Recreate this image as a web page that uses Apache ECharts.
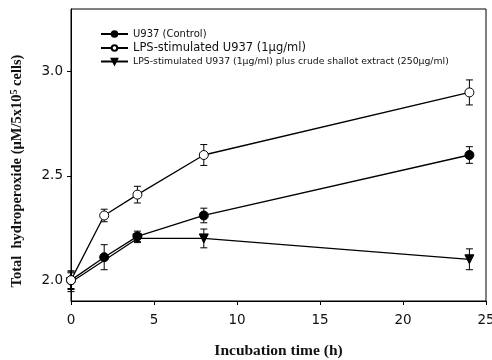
<!DOCTYPE html>
<html>
<head>
<meta charset="utf-8">
<style>
  html, body { margin: 0; padding: 0; background: #fff; }
  #chart { width: 492px; height: 360px; }
</style>
<script src="https://cdn.jsdelivr.net/npm/echarts@6/dist/echarts.min.js"></script>
</head>
<body>
<div id="chart"></div>
<script>
// Incubation times (h) and hydroperoxide levels with SD
const hours = [0, 2, 4, 8, 24];
const controlVals = [2.00, 2.11, 2.21, 2.31, 2.60];
const controlErr  = [0.045, 0.06, 0.025, 0.035, 0.04];
const lpsVals = [2.00, 2.31, 2.41, 2.60, 2.90];
const lpsErr  = [0.04, 0.03, 0.04, 0.05, 0.06];
const shallotHours = [0, 4, 8, 24];
const shallotVals = [1.99, 2.20, 2.20, 2.10];
const shallotErr  = [0.045, 0.02, 0.045, 0.05];
const yTicks = [2.0, 2.5, 3.0];

const names = [
  'U937 (Control)',
  'LPS-stimulated U937 (1\u03bcg/ml)',
  'LPS-stimulated U937 (1\u03bcg/ml) plus crude shallot extract (250\u03bcg/ml)'
];

function pairs(xs, ys) { return xs.map((x, i) => [x, ys[i]]); }
function errData(xs, ys, es) { return xs.map((x, i) => [x, ys[i] - es[i], ys[i] + es[i]]); }

function errorSeries(data) {
  return {
    type: 'custom',
    silent: true,
    z: 1,
    data: data,
    renderItem: function (params, api) {
      const lo = api.coord([api.value(0), api.value(1)]);
      const hi = api.coord([api.value(0), api.value(2)]);
      const cap = 3.5;
      const style = { stroke: '#000', lineWidth: 1, fill: null };
      return {
        type: 'group',
        children: [
          { type: 'line', shape: { x1: lo[0], y1: lo[1], x2: hi[0], y2: hi[1] }, style: style },
          { type: 'line', shape: { x1: lo[0] - cap, y1: lo[1], x2: lo[0] + cap, y2: lo[1] }, style: style },
          { type: 'line', shape: { x1: hi[0] - cap, y1: hi[1], x2: hi[0] + cap, y2: hi[1] }, style: style }
        ]
      };
    }
  };
}

const chart = echarts.init(document.getElementById('chart'), null, { renderer: 'canvas' });

const sansFont = 'DejaVu Sans';
const serifFont = 'Liberation Serif';

chart.setOption({
  animation: false,
  backgroundColor: '#fff',
  grid: {
    left: 71, right: 6, top: 9, bottom: 59,
    outerBoundsMode: 'none',
    containLabel: false,
    show: true, borderColor: '#000', borderWidth: 1, backgroundColor: 'transparent'
  },
  legend: {
    orient: 'vertical',
    left: 95,
    top: 24,
    itemWidth: 27,
    itemHeight: 7,
    itemGap: 3,
    textStyle: { fontFamily: sansFont, color: '#111' },
    data: [
      { name: names[0], textStyle: { fontSize: 10 } },
      { name: names[1], textStyle: { fontSize: 11.5 } },
      { name: names[2], textStyle: { fontSize: 9.3 } }
    ]
  },
  xAxis: {
    type: 'value',
    min: 0, max: 25, interval: 5,
    name: 'Incubation time (h)',
    nameLocation: 'middle',
    nameGap: 42,
    nameTextStyle: { fontFamily: serifFont, fontWeight: 'bold', fontSize: 15.5, color: '#111' },
    axisLine: { show: true, onZero: false, lineStyle: { color: '#000', width: 1 } },
    axisTick: { show: true, length: 4, lineStyle: { color: '#000' } },
    axisLabel: { fontFamily: sansFont, fontSize: 13.5, color: '#111', margin: 12 },
    splitLine: { show: false }
  },
  yAxis: {
    type: 'value',
    min: 1.9, max: 3.3,
    name: 'Total  hydroperoxide (\u03bcM/5x10{sup|5} cells)',
    nameLocation: 'middle',
    nameGap: 45,
    nameRotate: 90,
    nameTextStyle: {
      fontFamily: serifFont, fontWeight: 'bold', fontSize: 14.5, color: '#111',
      padding: [0, 32, 0, 0],
      rich: { sup: { fontFamily: serifFont, fontWeight: 'bold', fontSize: 10, verticalAlign: 'top', padding: [0, 0, 7, 0] } }
    },
    axisLine: { show: true, onZero: false, lineStyle: { color: '#000', width: 1 } },
    axisTick: { show: true, length: 4, customValues: yTicks, lineStyle: { color: '#000' } },
    axisLabel: {
      fontFamily: sansFont, fontSize: 13.5, color: '#111', margin: 8,
      customValues: yTicks,
      formatter: v => v.toFixed(1)
    },
    splitLine: { show: false }
  },
  series: [
    errorSeries(errData(hours, controlVals, controlErr)),
    errorSeries(errData(hours, lpsVals, lpsErr)),
    errorSeries(errData(shallotHours, shallotVals, shallotErr)),
    {
      name: names[0], type: 'line', z: 3,
      data: pairs(hours, controlVals),
      symbol: 'circle', symbolSize: 9,
      lineStyle: { color: '#000', width: 1.3 },
      itemStyle: { color: '#000', borderColor: '#000', borderWidth: 1 }
    },
    {
      name: names[1], type: 'line', z: 3,
      data: pairs(hours, lpsVals),
      symbol: 'circle', symbolSize: 9,
      lineStyle: { color: '#000', width: 1.3 },
      itemStyle: { color: '#fff', borderColor: '#000', borderWidth: 1 }
    },
    {
      name: names[2], type: 'line', z: 2,
      data: pairs(shallotHours, shallotVals),
      symbol: 'triangle', symbolRotate: 180, symbolSize: 9,
      lineStyle: { color: '#000', width: 1.3 },
      itemStyle: { color: '#000', borderColor: '#000', borderWidth: 1 }
    }
  ]
});
</script>
</body>
</html>
